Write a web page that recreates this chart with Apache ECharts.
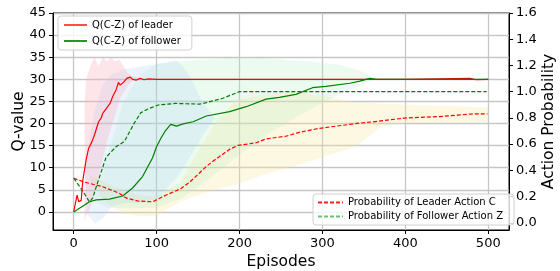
<!DOCTYPE html>
<html>
<head>
<meta charset="utf-8">
<script src="https://cdn.jsdelivr.net/npm/echarts@6/dist/echarts.min.js"></script>
<style>
  html, body { margin: 0; padding: 0; background: #fff; }
  #chart { width: 560px; height: 271px; }
</style>
</head>
<body>
<div id="chart"></div>
<script>
// tick values
const xTicks = [0, 100, 200, 300, 400, 500];
const qTicks = [0, 5, 10, 15, 20, 25, 30, 35, 40, 45];
const pTicks = [0, 0.2, 0.4, 0.6, 0.8, 1.0, 1.2, 1.4, 1.6];

// Q(C-Z) of leader (left axis)
const leaderQX = [0, 4, 6, 9, 11, 15, 18, 22, 25, 30, 33, 35, 37, 41, 44, 47, 51, 54, 56, 60, 64, 68, 71, 75, 80, 85, 90, 100, 120, 200, 300, 400, 478, 485, 500];
const leaderQ = [0, 3.8, 2.3, 2.6, 7.2, 11.8, 14.4, 15.9, 17.4, 20.4, 21.2, 22.3, 21.9, 23.8, 24.6, 26.1, 27.6, 29.3, 28.7, 29.3, 30.2, 30.5, 30, 29.8, 30.2, 29.9, 30.1, 30, 30, 30, 30, 30, 30.2, 29.9, 30];

// Q(C-Z) of follower (left axis)
const followerQX = [0, 19, 27, 43, 59, 71, 83, 95, 100, 105, 110, 117, 124, 132, 144, 160, 188, 208, 232, 248, 268, 288, 304, 333, 345, 357, 365, 500];
const followerQ = [0, 2.3, 2.7, 2.9, 3.6, 5.4, 8.0, 12.2, 14.8, 16.6, 18.2, 19.8, 19.4, 19.9, 20.4, 21.7, 22.7, 23.8, 25.5, 25.9, 26.6, 28.1, 28.4, 29.1, 29.6, 30.2, 30, 30];

// Probability of Leader Action C (right axis)
const leaderPX = [0, 13, 35, 55, 63, 77, 95, 111, 129, 140, 160, 168, 188, 198, 220, 232, 256, 272, 296, 320, 345, 361, 401, 441, 481, 499];
const leaderP = [0.34, 0.31, 0.275, 0.225, 0.19, 0.166, 0.16, 0.21, 0.26, 0.31, 0.43, 0.47, 0.56, 0.59, 0.61, 0.64, 0.66, 0.69, 0.72, 0.74, 0.76, 0.77, 0.80, 0.81, 0.83, 0.83];

// Probability of Follower Action Z (right axis)
const followerPX = [0, 9, 19, 23, 29, 39, 51, 61, 73, 81, 92, 103, 123, 152, 160, 180, 200, 250, 300, 400, 498];
const followerP = [0.34, 0.26, 0.16, 0.19, 0.31, 0.50, 0.58, 0.62, 0.76, 0.84, 0.875, 0.90, 0.91, 0.905, 0.917, 0.95, 1.0, 1.0, 1.0, 1.0, 1.0];

// shaded spreads
const pinkX = [13, 15, 20, 25, 30, 35, 40, 45, 50, 55, 60, 65, 70, 75, 80, 90];
const pinkLow = [-2, -1, 1, 4, 8, 12, 16, 19, 22, 25, 27, 28.5, 29.5, 29.8, 30, 30];
const pinkHigh = [25, 30, 33, 35, 33, 35, 34, 35, 34, 34.5, 33, 31.5, 30.8, 30.5, 30.3, 30.1];

const blueX = [15, 25, 35, 45, 60, 80, 100, 125, 140, 155, 170];
const blueLow = [0.08, -0.005, 0.03, 0.12, 0.15, 0.15, 0.18, 0.35, 0.5, 0.66, 0.8];
const blueHigh = [0.45, 0.85, 1.05, 1.13, 1.17, 1.19, 1.21, 1.24, 1.12, 0.92, 0.8];

const greenX = [25, 40, 60, 80, 100, 130, 150, 200, 234, 260, 288, 320, 345, 360, 368];
const greenLow = [2.5, 1, 0.8, 0.8, 1, 3, 5.5, 13, 17.5, 20.5, 23.5, 26.5, 28.6, 29.7, 30];
const greenHigh = [3, 12, 25, 31, 33.5, 34, 34.4, 35, 34.8, 34.3, 34, 33.3, 32, 30.5, 30];

const yellowX = [20, 40, 60, 80, 100, 128, 150, 175, 196, 230, 260, 300, 340, 372, 400, 450, 500];
const yellowLow = [0.3, 0.15, 0.07, 0.05, 0.05, 0.16, 0.21, 0.26, 0.29, 0.37, 0.42, 0.5, 0.58, 0.74, 0.76, 0.765, 0.77];
const yellowHigh = [0.36, 0.3, 0.25, 0.21, 0.2, 0.3, 0.55, 0.8, 0.94, 0.98, 1.0, 0.97, 0.92, 0.91, 0.9, 0.89, 0.88];

const FONT = "DejaVu Sans";

function pairs(xs, ys) {
  return xs.map((x, i) => [x, ys[i]]);
}

// filled area between low and high, drawn as one polygon
function band(name, xs, low, high, color, axisIndex) {
  return {
    name: name,
    type: "custom",
    yAxisIndex: axisIndex,
    silent: true,
    z: 1,
    clip: true,
    data: [[xs[0], low[0]]],
    renderItem: function (params, api) {
      const pts = [];
      for (let i = 0; i < xs.length; i++) pts.push(api.coord([xs[i], high[i]]));
      for (let i = xs.length - 1; i >= 0; i--) pts.push(api.coord([xs[i], low[i]]));
      return { type: "polygon", shape: { points: pts }, style: { fill: color } };
    },
  };
}

const chart = echarts.init(document.getElementById("chart"), null, { renderer: "canvas" });

const axisLine = { show: true, onZero: false, lineStyle: { color: "#000", width: 1 } };
const axisTick = { show: true, inside: false, length: 4, lineStyle: { color: "#000", width: 1 } };
const gridLine = { show: true, lineStyle: { color: "#c6c6c6", width: 1.3 } };

const option = {
  animation: false,
  textStyle: { fontFamily: FONT },
  grid: {
    left: 53,
    top: 13,
    right: 51,
    bottom: 41,
    containLabel: false,
    outerBoundsMode: "none",
    show: true,
    borderColor: "#000",
    borderWidth: 1,
    backgroundColor: "transparent",
  },
  xAxis: {
    type: "value",
    min: -25,
    max: 525,
    splitNumber: 5,
    name: "Episodes",
    nameLocation: "middle",
    nameGap: 24,
    nameMoveOverlap: false,
    nameTextStyle: { fontFamily: FONT, fontSize: 15.5, color: "#000" },
    axisLine: axisLine,
    axisTick: Object.assign({ customValues: xTicks }, axisTick),
    axisLabel: {
      customValues: xTicks,
      margin: 7,
      fontFamily: FONT,
      fontSize: 13,
      color: "#000",
    },
    splitLine: gridLine,
  },
  yAxis: [
    {
      type: "value",
      min: -4.1,
      max: 45,
      splitNumber: 10,
      name: "Q-value",
      nameLocation: "middle",
      nameGap: 26,
      nameMoveOverlap: false,
      nameTextStyle: { fontFamily: FONT, fontSize: 15.5, color: "#000" },
      axisLine: axisLine,
      axisTick: Object.assign({ customValues: qTicks }, axisTick),
      axisLabel: {
        customValues: qTicks,
        margin: 7,
        fontFamily: FONT,
        fontSize: 13,
        color: "#000",
      },
      splitLine: gridLine,
    },
    {
      type: "value",
      position: "right",
      min: -0.055,
      max: 1.6,
      splitNumber: 8,
      name: "Action Probability",
      nameLocation: "middle",
      nameGap: 32,
      nameMoveOverlap: false,
      nameTextStyle: { fontFamily: FONT, fontSize: 15.5, color: "#000" },
      axisLine: axisLine,
      axisTick: Object.assign({ customValues: pTicks }, axisTick),
      axisLabel: {
        customValues: pTicks,
        margin: 7,
        fontFamily: FONT,
        fontSize: 13,
        color: "#000",
        formatter: (v) => v.toFixed(1),
      },
      splitLine: { show: false },
    },
  ],
  legend: [
    {
      left: 58,
      top: 16,
      orient: "vertical",
      itemWidth: 23,
      itemHeight: 10,
      itemGap: 4,
      padding: [3, 11, 3, 5],
      backgroundColor: "rgba(255,255,255,0.8)",
      borderColor: "#d0d0d0",
      borderWidth: 1,
      borderRadius: 3,
      itemStyle: { opacity: 0 },
      textStyle: { fontFamily: FONT, fontSize: 10, lineHeight: 12, color: "#000" },
      data: [
        { name: "Q(C-Z) of leader", lineStyle: { color: "#ff4d4d" } },
        { name: "Q(C-Z) of follower", lineStyle: { color: "#229922" } },
      ],
    },
    {
      left: 313,
      top: 194,
      orient: "vertical",
      itemWidth: 25,
      itemHeight: 10,
      itemGap: 3,
      padding: [3, 11, 3, 4],
      backgroundColor: "rgba(255,255,255,0.8)",
      borderColor: "#d0d0d0",
      borderWidth: 1,
      borderRadius: 3,
      itemStyle: { opacity: 0 },
      textStyle: { fontFamily: FONT, fontSize: 10, lineHeight: 11, color: "#000" },
      data: [
        { name: "Probability of Leader Action C", lineStyle: { color: "#ff2020" } },
        { name: "Probability of Follower Action Z", lineStyle: { color: "#70c070" } },
      ],
    },
  ],
  series: [
    band("yellow", yellowX, yellowLow, yellowHigh, "rgba(248,232,160,0.3)", 1),
    band("green", greenX, greenLow, greenHigh, "rgba(170,235,185,0.22)", 0),
    band("blue", blueX, blueLow, blueHigh, "rgba(170,205,248,0.24)", 1),
    band("pink", pinkX, pinkLow, pinkHigh, "rgba(250,170,185,0.3)", 0),
    {
      name: "Probability of Leader Action C",
      type: "line",
      yAxisIndex: 1,
      symbol: "none",
      z: 3,
      lineStyle: { color: "#ff0000", width: 1.2, type: [4, 2] },
      data: pairs(leaderPX, leaderP),
    },
    {
      name: "Probability of Follower Action Z",
      type: "line",
      yAxisIndex: 1,
      symbol: "none",
      z: 3,
      lineStyle: { color: "#007f00", width: 1.2, type: [4, 2] },
      data: pairs(followerPX, followerP),
    },
    {
      name: "Q(C-Z) of leader",
      type: "line",
      yAxisIndex: 0,
      symbol: "none",
      z: 3,
      lineStyle: { color: "#ff0000", width: 1.2 },
      data: pairs(leaderQX, leaderQ),
    },
    {
      name: "Q(C-Z) of follower",
      type: "line",
      yAxisIndex: 0,
      symbol: "none",
      z: 4,
      lineStyle: { color: "#008000", width: 1.2 },
      data: pairs(followerQX, followerQ),
    },
  ],
};

chart.setOption(option);
</script>
</body>
</html>
